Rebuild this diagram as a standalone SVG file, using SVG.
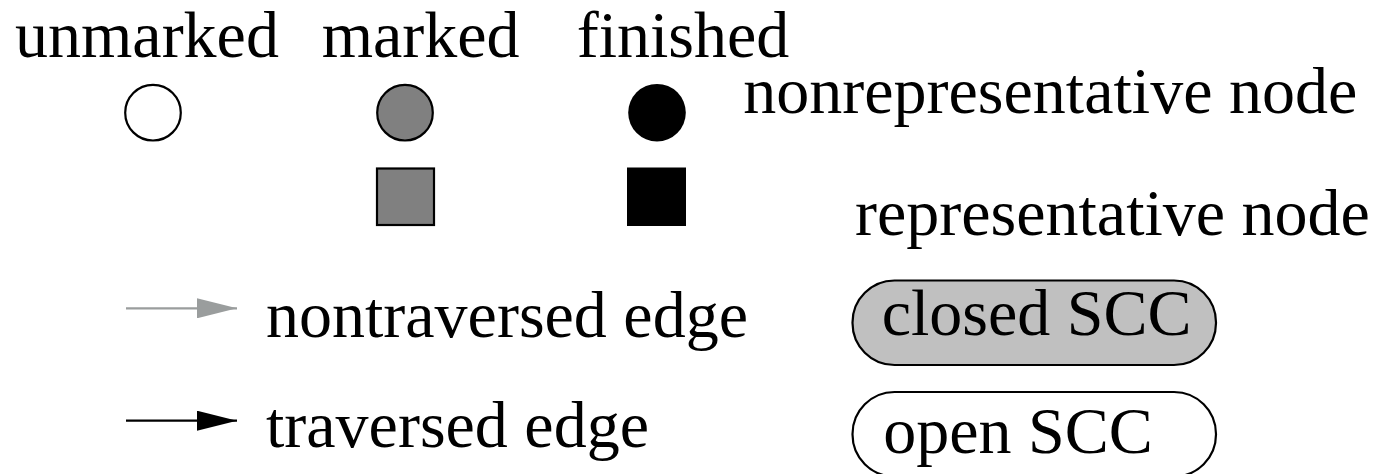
<svg xmlns="http://www.w3.org/2000/svg" width="1383" height="474" viewBox="0 0 1383 474">
<style>
text{font-family:"Liberation Serif","Times New Roman",serif;font-size:66px;fill:#000}
.ol{stroke:#000;stroke-width:2.2}
</style>
<defs>
<marker id="ag" markerUnits="userSpaceOnUse" markerWidth="40" markerHeight="20" refX="40" refY="10" orient="auto"><path d="M0,0 L40,10 L0,20 Z" fill="#9a9d9d"/></marker>
<marker id="ab" markerUnits="userSpaceOnUse" markerWidth="40" markerHeight="20" refX="40" refY="10" orient="auto"><path d="M0,0 L40,10 L0,20 Z" fill="#000"/></marker>
</defs>
<rect width="1383" height="474" fill="#fff"/>
<g id="headers">
<text x="15" y="56.7">unmarked</text>
<text x="321.7" y="56.7">marked</text>
<text x="576.7" y="56.7">finished</text>
</g>
<g id="unmarked-node"><circle class="ol" cx="153" cy="112.7" r="27.8" fill="#fff"/></g>
<g id="marked-node"><circle class="ol" cx="405" cy="112.7" r="27.8" fill="#808080"/></g>
<g id="finished-node"><circle cx="657" cy="112.7" r="28.8" fill="#000"/></g>
<g id="marked-rep"><rect class="ol" x="377" y="168.5" width="57" height="56.5" fill="#808080"/></g>
<g id="finished-rep"><rect x="627" y="167.5" width="59" height="58.5" fill="#000"/></g>
<g id="labels">
<text x="743.3" y="113.3">nonrepresentative node</text>
<text x="855" y="235">representative node</text>
<text x="266" y="336.7">nontraversed edge</text>
<text x="266" y="446.7">traversed edge</text>
</g>
<g id="connectors">
<line x1="126" y1="308.3" x2="237" y2="308.3" stroke="#9a9d9d" stroke-width="2.2" marker-end="url(#ag)"/>
<line x1="126" y1="420.7" x2="237" y2="420.7" stroke="#000" stroke-width="2.2" marker-end="url(#ab)"/>
</g>
<g id="closed-scc">
<rect class="ol" x="852.5" y="280.5" width="363.5" height="84.5" rx="42" fill="#c0c0c0"/>
<text x="881.7" y="335">closed SCC</text>
</g>
<g id="open-scc">
<rect class="ol" x="852.5" y="392" width="363.5" height="84.5" rx="42" fill="#fff"/>
<text x="883.3" y="453.3">open SCC</text>
</g>
</svg>
